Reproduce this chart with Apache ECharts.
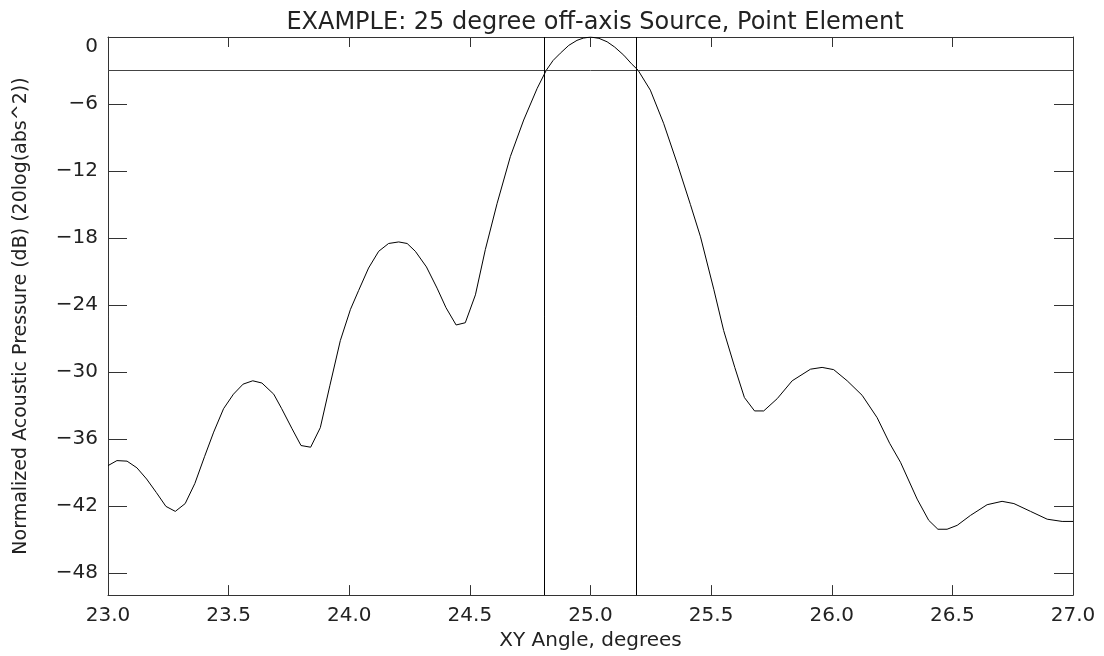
<!DOCTYPE html>
<html>
<head>
<meta charset="utf-8">
<script src="https://cdn.jsdelivr.net/npm/echarts@6/dist/echarts.min.js"></script>
<style>
html,body{margin:0;padding:0;background:#fff;}
#chart{width:1104px;height:656px;}
</style>
</head>
<body>
<div id="chart"></div>
<script>
// Angle (degrees) samples
const angles = [
  23.000, 23.037, 23.079, 23.120, 23.160, 23.200, 23.240, 23.279, 23.320, 23.360,
  23.400, 23.438, 23.479, 23.520, 23.560, 23.600, 23.638, 23.687, 23.720, 23.763,
  23.800, 23.840, 23.880, 23.920, 23.963, 24.005, 24.039, 24.080, 24.122, 24.163,
  24.205, 24.240, 24.274, 24.320, 24.364, 24.401, 24.443, 24.481, 24.523, 24.564,
  24.613, 24.668, 24.723, 24.779, 24.817, 24.845, 24.875, 24.910, 24.944, 24.970,
  25.000, 25.035, 25.069, 25.100, 25.138, 25.170, 25.197, 25.248, 25.303, 25.359,
  25.414, 25.456, 25.511, 25.552, 25.598, 25.638, 25.680, 25.718, 25.774, 25.836,
  25.912, 25.960, 26.008, 26.064, 26.126, 26.188, 26.240, 26.285, 26.354, 26.402,
  26.440, 26.478, 26.520, 26.575, 26.644, 26.706, 26.755, 26.824, 26.893, 26.955,
  27.000
];
// Normalized acoustic pressure (dB)
const pressureDb = [
  -38.4, -37.95, -38.0, -38.6, -39.6, -40.8, -42.05, -42.5, -41.8, -40.0,
  -37.6, -35.4, -33.3, -32.0, -31.1, -30.8, -31.0, -32.0, -33.3, -35.1,
  -36.6, -36.75, -35.0, -31.2, -27.2, -24.4, -22.7, -20.7, -19.2, -18.5,
  -18.36, -18.5, -19.2, -20.6, -22.5, -24.25, -25.8, -25.6, -23.1, -19.05,
  -14.9, -10.7, -7.44, -4.6, -2.97, -2.1, -1.45, -0.75, -0.3, -0.1,
  0.0, -0.12, -0.43, -0.9, -1.63, -2.4, -2.97, -4.76, -7.73, -11.3,
  -15.0, -17.9, -22.6, -26.3, -29.6, -32.3, -33.5, -33.5, -32.4, -30.8,
  -29.76, -29.6, -29.8, -30.8, -32.1, -34.1, -36.4, -38.1, -41.4, -43.3,
  -44.1, -44.1, -43.75, -42.86, -41.9, -41.6, -41.8, -42.5, -43.2, -43.4,
  -43.4
];
// Reference lines
const halfPowerLevel = [-3];
const halfPowerAngles = [24.814, 25.194];
// Tick labels
const yTicks = [-48, -42, -36, -30, -24, -18, -12, -6, 0];
const xTicks = [23.0, 23.5, 24.0, 24.5, 25.0, 25.5, 26.0, 26.5, 27.0];

const titleText = 'EXAMPLE: 25 degree off-axis Source, Point Element';
const xName = 'XY Angle, degrees';
const yName = 'Normalized Acoustic Pressure (dB) (20log(abs^2))';

const FONT = 'DejaVu Sans';
const AX = '#333';

const chart = echarts.init(document.getElementById('chart'), null, {renderer: 'canvas'});
const lineData = angles.map((a, i) => [a, pressureDb[i]]);

chart.setOption({
  animation: false,
  backgroundColor: '#fff',
  title: {
    text: titleText,
    left: 590, top: 6, textAlign: 'center',
    textStyle: {fontFamily: FONT, fontWeight: 'normal', fontSize: 24, color: '#222'}
  },
  grid: {left: 108, right: 31, top: 37, bottom: 59, containLabel: false},
  xAxis: [{
    type: 'value', min: 23, max: 27, interval: 0.5, position: 'bottom',
    name: xName, nameLocation: 'middle', nameGap: 35,
    nameTextStyle: {fontFamily: FONT, fontSize: 20, color: '#222'},
    axisLine: {show: true, onZero: false, lineStyle: {color: AX, width: 1}},
    axisTick: {show: true, inside: true, length: 10, lineStyle: {color: AX}},
    axisLabel: {fontFamily: FONT, fontSize: 20, color: '#222', margin: 11,
      customValues: xTicks, formatter: v => v.toFixed(1)},
    splitLine: {show: false}
  }, {
    type: 'value', min: 23, max: 27, interval: 0.5, position: 'top',
    axisLine: {show: true, onZero: false, lineStyle: {color: AX, width: 1}},
    axisTick: {show: true, inside: true, length: 10, lineStyle: {color: AX}},
    axisLabel: {show: false},
    splitLine: {show: false}
  }],
  yAxis: [{
    type: 'value', min: -50, max: 0, position: 'left',
    name: yName, nameLocation: 'middle', nameGap: 77, nameRotate: 90,
    nameTextStyle: {fontFamily: FONT, fontSize: 19, color: '#222'},
    axisLine: {show: true, onZero: false, lineStyle: {color: AX, width: 1}},
    axisTick: {show: true, inside: true, length: 19, customValues: yTicks, lineStyle: {color: AX}},
    axisLabel: {fontFamily: FONT, fontSize: 20, color: '#222', margin: 10,
      customValues: yTicks, verticalAlignMaxLabel: 'top',
      formatter: v => (v < 0 ? '\u2212' + Math.abs(v) : String(v))},
    splitLine: {show: false}
  }, {
    type: 'value', min: -50, max: 0, position: 'right',
    axisLine: {show: true, onZero: false, lineStyle: {color: AX, width: 1}},
    axisTick: {show: true, inside: true, length: 19, customValues: yTicks, lineStyle: {color: AX}},
    axisLabel: {show: false},
    splitLine: {show: false}
  }],
  series: [{
    type: 'line',
    xAxisIndex: 0, yAxisIndex: 0,
    data: lineData,
    showSymbol: false,
    smooth: false,
    lineStyle: {color: '#000', width: 1},
    silent: true,
    markLine: {
      silent: true,
      symbol: ['none', 'none'],
      label: {show: false},
      lineStyle: {color: '#000', width: 1, type: 'solid'},
      data: [
        ...halfPowerLevel.map(v => ({yAxis: v, lineStyle: {color: '#444'}})),
        ...halfPowerAngles.map(v => ({xAxis: v}))
      ]
    }
  }]
});
</script>
</body>
</html>
